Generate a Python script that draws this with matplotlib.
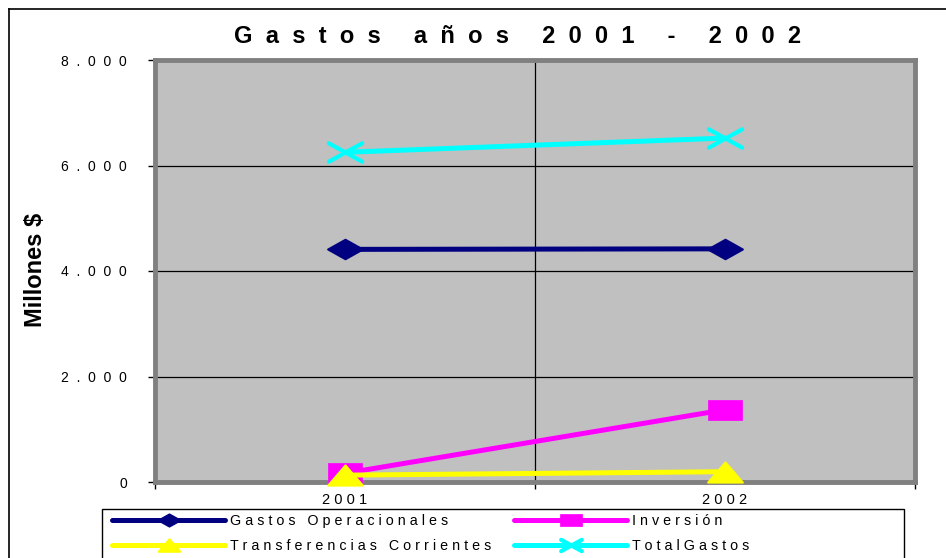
import matplotlib.pyplot as plt
from matplotlib.path import Path
from matplotlib.markers import MarkerStyle
from matplotlib.lines import Line2D
from matplotlib.patches import Rectangle

plt.rcParams['font.family'] = ['Liberation Sans', 'DejaVu Sans']

years = ['2001', '2002']
y_ticks = [0, 2000, 4000, 6000, 8000]

gastos_operacionales = [4410, 4420]
inversion = [165, 1370]
transferencias = [130, 195]
total_gastos = [6250, 6520]

title = 'Gastos años 2001 - 2002'
y_label = 'Millones $'
names = ['Gastos Operacionales', 'Inversión', 'Transferencias Corrientes', 'Total Gastos']


def spaced(text, word_gap='   '):
    # excel style letter spacing
    return word_gap.join(' '.join(word) for word in text.split(' '))


def tracked(text, gap='  '):
    return gap.join(text)


def fmt_thousands(v):
    return f'{v:,}'.replace(',', '.')


def marker(verts, codes):
    return MarkerStyle(Path(verts, codes), joinstyle='round')


# markers are stretched sideways like in the original export
M, L, C = Path.MOVETO, Path.LINETO, Path.CLOSEPOLY
diamond = marker([(-1, 0), (0, 0.56), (1, 0), (0, -0.56), (-1, 0)], [M, L, L, L, C])
square = marker([(-1, -0.6), (1, -0.6), (1, 0.6), (-1, 0.6), (-1, -0.6)], [M, L, L, L, C])
triangle = marker([(-1, -0.58), (0, 0.58), (1, -0.58), (-1, -0.58)], [M, L, L, C])
cross = MarkerStyle(Path([(-1, -0.55), (1, 0.55), (-1, 0.55), (1, -0.55)], [M, L, M, L]),
                    capstyle='round')

W, H = 946, 558
fig = plt.figure(figsize=(W / 100, H / 100), dpi=100)
ax = fig.add_axes([155 / W, 1 - 482 / H, 760 / W, (482 - 60) / H])

ax.set_facecolor('#C0C0C0')
x = list(range(len(years)))

ax.plot(x, gastos_operacionales, color='#000080', lw=3.6, marker=diamond, ms=25,
        mew=1.5, solid_capstyle='round', label=spaced(names[0]), clip_on=False, zorder=3)
ax.plot(x, inversion, color='#FF00FF', lw=3.6, marker=square, ms=25, mew=0.5,
        solid_capstyle='round', label=spaced(names[1]), clip_on=False, zorder=3)
ax.plot(x, transferencias, color='#FFFF00', lw=3.6, marker=triangle, ms=25, mew=1.5,
        solid_capstyle='round', label=spaced(names[2]), clip_on=False, zorder=3)
ax.plot(x, total_gastos, color='#00FFFF', lw=3.6, marker=cross, ms=24, mew=3,
        solid_capstyle='round', label=spaced(names[3], ' '), clip_on=False, zorder=3)

ax.set_xlim(-0.5, len(years) - 0.5)
ax.set_ylim(y_ticks[0], y_ticks[-1])

# category boundaries carry the ticks, labels sit in the middle
ax.set_xticks([i - 0.5 for i in range(len(years) + 1)])
ax.set_xticklabels([])
ax.set_xticks(x, minor=True)
ax.set_xticklabels([spaced(y) for y in years], minor=True, fontsize=10.5)
ax.tick_params(axis='x', which='major', length=5, width=1, color='black')
ax.tick_params(axis='x', which='minor', length=0, pad=8)

ax.set_yticks(y_ticks)
ax.set_yticklabels([tracked(fmt_thousands(v)) for v in y_ticks], fontsize=10)
ax.tick_params(axis='y', length=5, width=1, pad=15)

for v in y_ticks[1:-1]:
    ax.axhline(v, color='black', lw=0.9, zorder=1)
for i in range(1, len(years)):
    ax.axvline(i - 0.5, color='black', lw=0.9, zorder=1)

for side in ['top', 'right', 'left', 'bottom']:
    ax.spines[side].set_color('#808080')
    ax.spines[side].set_linewidth(3.5)
ax.add_line(Line2D([0, 0], [0, 1], transform=ax.transAxes, color='black', lw=1.2, zorder=2))
ax.add_line(Line2D([0, 1], [0, 0], transform=ax.transAxes, color='black', lw=1.5, zorder=2))

fig.text(518 / W, 1 - 43 / H, tracked(title), ha='center', va='baseline',
         fontsize=17, fontweight='bold')
fig.text(36 / W, 1 - 270 / H, y_label, ha='center', va='center', rotation=90,
         fontsize=17, fontweight='bold')

# outer chart border (cut off on the right and bottom)
fig.add_artist(Line2D([9 / W, 1], [1 - 9 / H, 1 - 9 / H], transform=fig.transFigure,
                      color='black', lw=1.2))
fig.add_artist(Line2D([9 / W, 9 / W], [0, 1 - 9 / H], transform=fig.transFigure,
                      color='black', lw=1.2))

handles, labels = ax.get_legend_handles_labels()
order = [0, 2, 1, 3]
fig.legend([handles[i] for i in order], [labels[i] for i in order], ncol=2,
           loc='upper left', bbox_to_anchor=(112 / W, 1 - 514 / H), frameon=False,
           borderpad=0, borderaxespad=0, fontsize=10.3, markerscale=0.62,
           handlelength=7.9, handletextpad=0.35, columnspacing=1.6, labelspacing=0.75)
fig.add_artist(Rectangle((102 / W, -0.05), (904 - 102) / W, 0.05 + 1 - 509 / H,
                         transform=fig.transFigure, fill=False, edgecolor='black', lw=1.0))

fig.savefig('out.png', dpi=100)
